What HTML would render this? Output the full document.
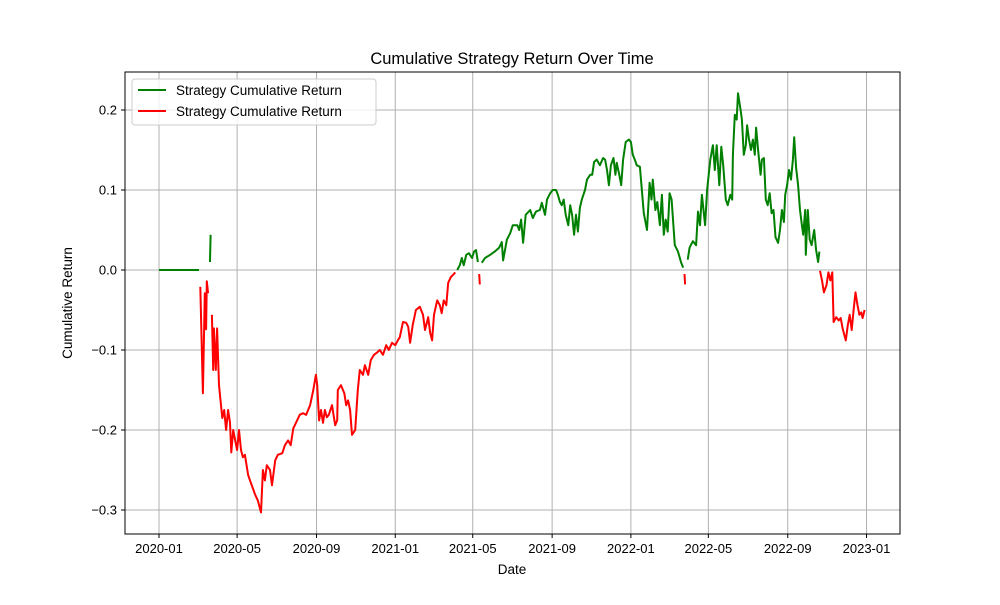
<!DOCTYPE html>
<html><head><meta charset="utf-8"><style>
body{margin:0;background:#fff}
svg text{font-family:"Liberation Sans","DejaVu Sans",sans-serif}
</style></head><body>
<svg id="chart" width="1000" height="600" xmlns="http://www.w3.org/2000/svg">
<rect width="1000" height="600" fill="#fff"/>
<g id="grid"></g>
<g id="series"></g>
<rect x="125" y="72" width="775" height="462" fill="none" stroke="#000" stroke-width="1"/>
<g id="ticks"></g>
<text x="512" y="64" text-anchor="middle" font-size="16.5">Cumulative Strategy Return Over Time</text>
<text x="512" y="574" text-anchor="middle" font-size="13.5">Date</text>
<text x="72" y="303" text-anchor="middle" font-size="13.5" transform="rotate(-90 72 303)">Cumulative Return</text>
<g>
<rect x="132" y="79" width="244" height="46" rx="3" fill="#fff" fill-opacity="0.8" stroke="#ccc"/>
<g><line x1="138" y1="90" x2="166" y2="90" stroke="green" stroke-width="2"/><text x="176" y="95" font-size="13.5">Strategy Cumulative Return</text></g>
<g><line x1="138" y1="111" x2="166" y2="111" stroke="red" stroke-width="2"/><text x="176" y="116" font-size="13.5">Strategy Cumulative Return</text></g>
</g>
</svg>
<script>
const days=[0,62,64,68,71,73,74,76,79,80,82,84,85,88,90,93,98,101,104,107,110,112,115,118,121,124,127,130,133,138,141,149,153,158,161,164,167,172,175,180,184,191,195,200,204,208,214,218,223,228,234,239,243,245,248,251,254,257,260,263,268,273,276,277,282,287,290,293,296,299,304,308,311,316,319,324,328,333,338,342,347,352,356,361,366,370,373,378,383,386,389,393,398,404,409,412,417,420,423,426,431,435,438,441,445,448,452,459,462,466,469,472,476,480,485,488,491,494,496,497,500,505,513,520,527,531,533,536,539,544,548,555,558,561,564,568,575,579,584,590,593,598,601,606,610,615,618,621,624,627,630,634,637,640,643,646,649,652,655,660,663,668,671,674,678,683,688,691,694,697,700,704,707,709,713,716,719,723,728,731,734,737,740,745,751,756,760,763,765,769,772,776,779,782,785,788,791,794,799,804,809,812,814,815,819,822,827,832,835,838,841,846,849,854,858,861,864,868,871,874,878,881,885,888,889,892,895,897,901,903,906,909,911,914,917,920,923,925,928,932,934,937,940,943,946,949,952,955,959,962,965,968,970,973,976,979,982,984,987,990,993,996,998,1001,1002,1005,1008,1011,1015,1018,1021,1023,1024,1027,1030,1034,1037,1040,1043,1045,1049,1053,1056,1059,1064,1067,1070,1073,1076,1079,1082,1085,1088,1090,1093];
const values=[0,0,-0.021,-0.154,-0.029,-0.074,-0.014,-0.029,0.010,0.044,-0.056,-0.125,-0.073,-0.125,-0.073,-0.144,-0.185,-0.175,-0.2,-0.175,-0.191,-0.228,-0.2,-0.213,-0.225,-0.2,-0.225,-0.234,-0.231,-0.256,-0.263,-0.281,-0.288,-0.303,-0.25,-0.263,-0.244,-0.25,-0.269,-0.238,-0.231,-0.229,-0.219,-0.213,-0.219,-0.198,-0.188,-0.181,-0.179,-0.181,-0.169,-0.15,-0.131,-0.144,-0.188,-0.175,-0.191,-0.175,-0.184,-0.181,-0.169,-0.194,-0.188,-0.15,-0.144,-0.154,-0.169,-0.163,-0.175,-0.206,-0.2,-0.15,-0.125,-0.131,-0.119,-0.131,-0.113,-0.106,-0.103,-0.1,-0.106,-0.094,-0.1,-0.091,-0.094,-0.088,-0.084,-0.065,-0.066,-0.071,-0.091,-0.069,-0.05,-0.046,-0.056,-0.075,-0.059,-0.078,-0.088,-0.056,-0.038,-0.044,-0.054,-0.038,-0.044,-0.016,-0.009,-0.003,0.0,0.006,0.015,0.006,0.019,0.021,0.015,0.023,0.025,0.01,-0.005,-0.018,0.009,0.015,0.019,0.023,0.028,0.035,0.012,0.025,0.038,0.046,0.056,0.056,0.05,0.063,0.034,0.069,0.075,0.065,0.073,0.075,0.084,0.069,0.088,0.096,0.1,0.1,0.094,0.085,0.081,0.088,0.069,0.056,0.081,0.069,0.044,0.069,0.048,0.078,0.088,0.1,0.113,0.119,0.119,0.135,0.138,0.131,0.14,0.138,0.125,0.106,0.131,0.14,0.119,0.134,0.119,0.106,0.138,0.16,0.163,0.16,0.144,0.138,0.131,0.129,0.071,0.05,0.109,0.088,0.113,0.075,0.085,0.056,0.094,0.044,0.063,0.048,0.096,0.088,0.031,0.023,0.009,0.003,-0.005,-0.018,0.013,0.028,0.036,0.031,0.073,0.056,0.094,0.056,0.1,0.138,0.156,0.125,0.156,0.106,0.154,0.131,0.088,0.081,0.094,0.088,0.144,0.194,0.188,0.221,0.2,0.188,0.144,0.156,0.181,0.163,0.15,0.163,0.144,0.178,0.15,0.119,0.138,0.14,0.088,0.081,0.096,0.071,0.075,0.041,0.034,0.05,0.075,0.06,0.094,0.106,0.125,0.113,0.138,0.166,0.128,0.106,0.075,0.056,0.044,0.075,0.019,0.075,0.038,0.031,0.05,0.025,0.01,0.023,-0.001,-0.013,-0.028,-0.019,-0.003,-0.013,-0.003,-0.065,-0.059,-0.063,-0.06,-0.073,-0.088,-0.069,-0.056,-0.075,-0.05,-0.028,-0.044,-0.056,-0.053,-0.06,-0.05];
const yTicks=[-0.3,-0.2,-0.1,0.0,0.1,0.2];
const xTickLabels=["2020-01","2020-05","2020-09","2021-01","2021-05","2021-09","2022-01","2022-05","2022-09","2023-01"];
const xTickDays=[0,121,244,366,486,609,731,851,974,1096];
const NS="http://www.w3.org/2000/svg";
const xs=d=>159+d*(707.5/1096);
const ys=v=>270-v*800;
const grid=document.getElementById('grid'),ticks=document.getElementById('ticks'),ser=document.getElementById('series');
function mk(tag,attrs,parent){const e=document.createElementNS(NS,tag);for(const k in attrs)e.setAttribute(k,attrs[k]);parent.appendChild(e);return e;}
yTicks.forEach(t=>{const y=ys(t);
 const g=mk('line',{x1:125,x2:900,y1:y,y2:y,stroke:'#b0b0b0','stroke-width':1},grid);
 
 
 mk('line',{x1:121,x2:125,y1:y,y2:y,stroke:'#000'},ticks);
 const tx=mk('text',{x:117,y:y+4.5,'text-anchor':'end','font-size':13},ticks);
 tx.textContent=(t<0?'\u22120':'0')+'.'+Math.round(Math.abs(t)*10);
 
 
});
xTickDays.forEach((d,i)=>{const x=xs(d);
 const g=mk('line',{x1:x,x2:x,y1:72,y2:534,stroke:'#b0b0b0','stroke-width':1},grid);
 
 
 mk('line',{x1:x,x2:x,y1:534,y2:538,stroke:'#000'},ticks);
 const tx=mk('text',{x:x,y:553,'text-anchor':'middle','font-size':13},ticks);
 tx.textContent=xTickLabels[i];
 
 
});
// build runs of same sign
let run=[],cls=null;
function flush(){if(run.length>1){const p=mk('polyline',{points:run.map(q=>q.join(',')).join(' '),fill:'none',stroke:cls?'green':'red','stroke-width':2,'stroke-linejoin':'round'},ser);
 
 }}
for(let i=0;i<days.length;i++){const c=values[i]>=0;
 if(c!==cls){flush();run=[];cls=c;}
 run.push([xs(days[i]).toFixed(1),ys(values[i]).toFixed(1)]);}
flush();
</script>
</body></html>
